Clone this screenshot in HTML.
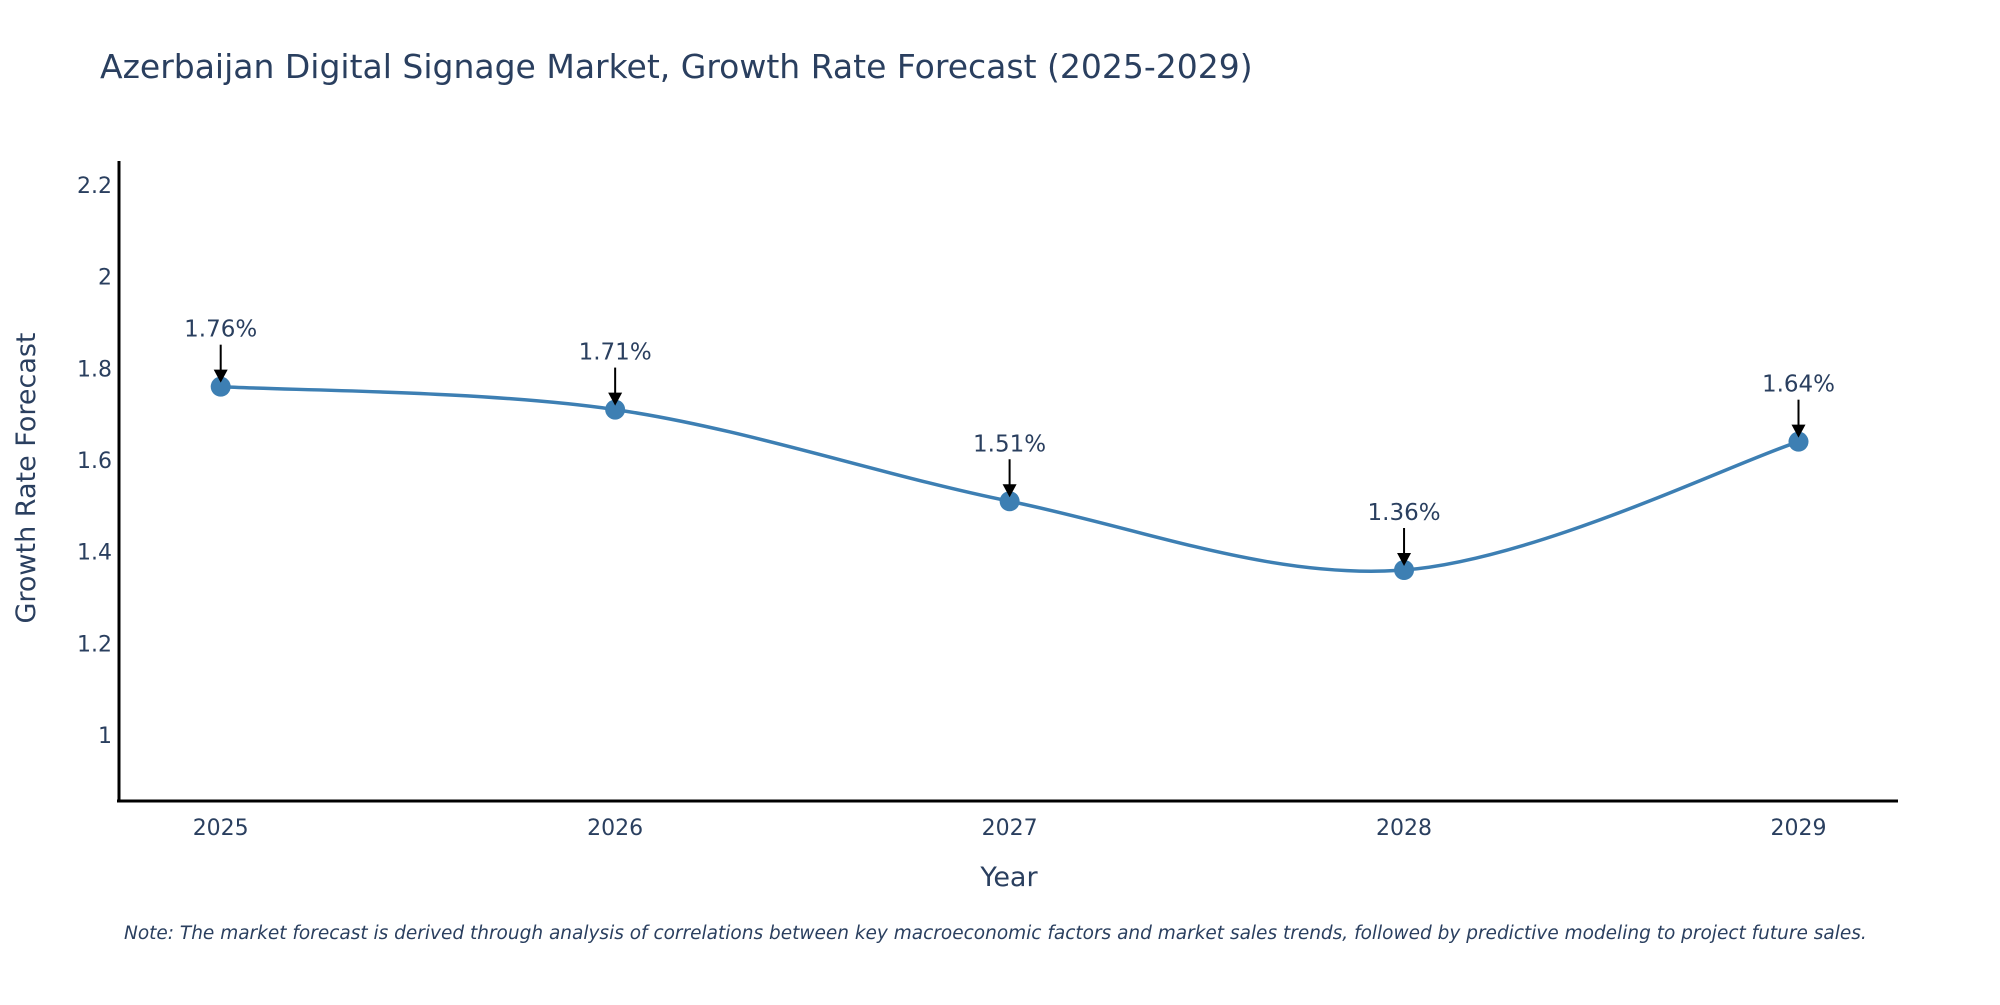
<!DOCTYPE html>
<html><head><meta charset="utf-8"><style>
body{margin:0;background:#fff;}
svg text{font-family:"DejaVu Sans","Liberation Sans",sans-serif;fill:#2a3f5f;}
</style></head><body>
<svg id="chart" width="2000" height="1000" xmlns="http://www.w3.org/2000/svg">
<text x="100" y="78" font-size="33">Azerbaijan Digital Signage Market, Growth Rate Forecast (2025-2029)</text>
<g id="yticks"></g>
<g id="xticks"></g>
<line x1="119" y1="161" x2="119" y2="802" stroke="#000" stroke-width="3"/>
<line x1="117" y1="801" x2="1898" y2="801" stroke="#000" stroke-width="3"/>
<path id="line" fill="none" stroke="#3d7fb3" stroke-width="3.5"/>
<g id="marks"></g>
<text transform="translate(35,478) rotate(-90)" text-anchor="middle" font-size="27">Growth Rate Forecast</text>
<text x="1009" y="886" text-anchor="middle" font-size="27">Year</text>
<text x="124" y="939" font-size="18.5" font-style="italic" fill="#222">Note: The market forecast is derived through analysis of correlations between key macroeconomic factors and market sales trends, followed by predictive modeling to project future sales.</text>
</svg>
<script>
const years = [2025, 2026, 2027, 2028, 2029];
const values = [1.76, 1.71, 1.51, 1.36, 1.64];
const yTicks = [1, 1.2, 1.4, 1.6, 1.8, 2, 2.2];
const NS = "http://www.w3.org/2000/svg";
function xs(i){return 220.7 + (1798.5-220.7)*(years[i]-years[0])/(years[years.length-1]-years[0]);}
function ys(v){return 735 - (v-1)*(735-185)/1.2;}
function mk(tag,attrs,parent){const e=document.createElementNS(NS,tag);for(const k in attrs)e.setAttribute(k,attrs[k]);parent.appendChild(e);return e;}
const yg=document.getElementById('yticks');
yTicks.forEach(t=>{
  const e=mk('text',{x:112,y:ys(t)+8,'text-anchor':'end','font-size':22},yg);
  
  
  e.textContent=String(t);
});
const xg=document.getElementById('xticks');
years.forEach((yr,i)=>{
  const e=mk('text',{x:xs(i),y:835,'text-anchor':'middle','font-size':22},xg);
  
  
  e.textContent=String(yr);
});
const pts=values.map((v,i)=>[xs(i),ys(v)]);
let d=`M${pts[0][0]},${pts[0][1]}`;
const tn=0.5;
for(let i=0;i<pts.length-1;i++){
  const p0=pts[Math.max(i-1,0)],p1=pts[i],p2=pts[i+1],p3=pts[Math.min(i+2,pts.length-1)];
  const c1=[p1[0]+(p2[0]-p0[0])*tn/3,p1[1]+(p2[1]-p0[1])*tn/3];
  const c2=[p2[0]-(p3[0]-p1[0])*tn/3,p2[1]-(p3[1]-p1[1])*tn/3];
  d+=` C${c1[0]},${c1[1]} ${c2[0]},${c2[1]} ${p2[0]},${p2[1]}`;
}
document.getElementById('line').setAttribute('d',d);
const mg=document.getElementById('marks');
pts.forEach((p,i)=>{
  const c=mk('circle',{cx:p[0],cy:p[1],r:10,fill:'#3d7fb3'},mg);
  
  
  const l=mk('line',{x1:p[0],y1:p[1]-42,x2:p[0],y2:p[1]-14,stroke:'#000','stroke-width':2},mg);
  
  
  const a=mk('path',{d:`M${p[0]-7},${p[1]-17} L${p[0]+7},${p[1]-17} L${p[0]},${p[1]-4} Z`,fill:'#000'},mg);
  
  
  const t=mk('text',{x:p[0],y:p[1]-50,'text-anchor':'middle','font-size':23},mg);
  
  
  t.textContent=values[i].toFixed(2)+'%';
});
</script>
</body></html>
